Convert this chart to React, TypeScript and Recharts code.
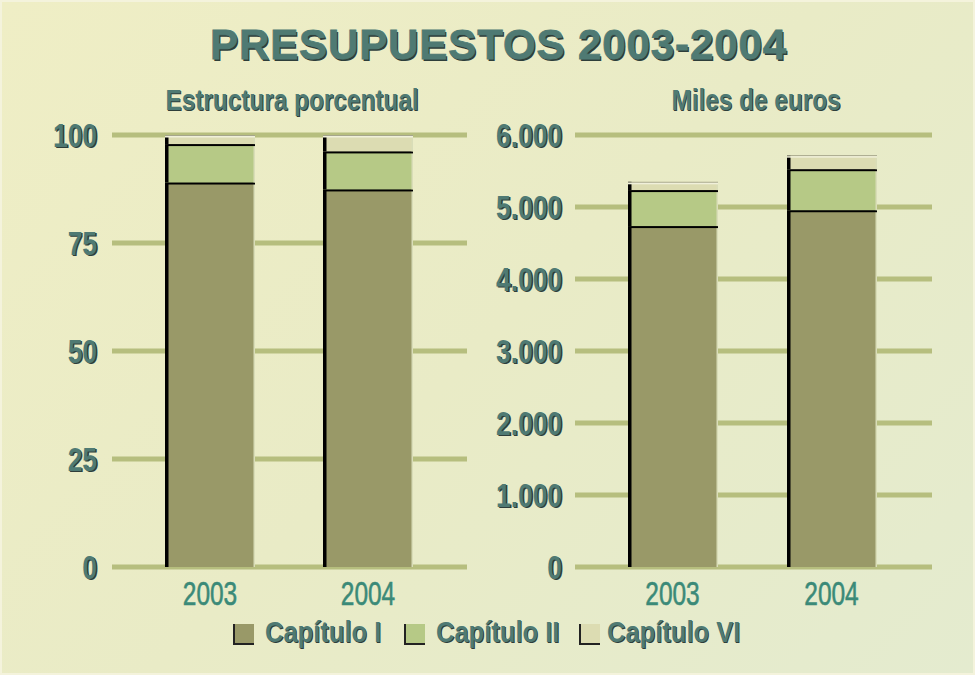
import React from 'react';
import { BarChart, Bar, XAxis, YAxis, CartesianGrid } from 'recharts';

const categories = ['2003', '2004'];
const pctCap1 = [89.0, 87.4];
const pctCap2 = [8.9, 8.8];
const pctCap6 = [2.1, 3.8];
const eurCap1 = [4735, 4955];
const eurCap2 = [500, 570];
const eurCap6 = [115, 195];
const pctTicks = [0, 25, 50, 75, 100];
const eurTicks = [0, 1000, 2000, 3000, 4000, 5000, 6000];
const seriesNames = ['Capítulo I', 'Capítulo II', 'Capítulo VI'];

const pctData = categories.map((c, i) => ({ year: c, c1: pctCap1[i], c2: pctCap2[i], c6: pctCap6[i] }));
const eurData = categories.map((c, i) => ({ year: c, c1: eurCap1[i], c2: eurCap2[i], c6: eurCap6[i] }));

const COLORS = ['#999968', '#B6C986', '#DCDCB2'];
const SANS = '"Liberation Sans", Arial, sans-serif';
const TEXT = '#4F7A73';

const makeShape = (topDark: boolean) => (props: any) => {
  const { x, y, width, height, fill } = props;
  if (!height || height <= 0) return <g />;
  return (
    <g>
      <rect x={x} y={y} width={width} height={height} fill={fill} />
      <rect x={x + width - 1.5} y={y} width={1.5} height={height} fill="#D9DDB8" />
      <rect x={x} y={y} width={3.5} height={height} fill="#000" />
      {topDark ? (
        <rect x={x} y={y - 1.5} width={width} height={3.5} fill="#000" />
      ) : (
        <g>
          <rect x={x} y={y} width={width} height={1} fill="#A6A68C" />
          <rect x={x} y={y + 1} width={width} height={1.5} fill="#F0F0DA" />
        </g>
      )}
    </g>
  );
};

const fmt = (v: number) => v.toLocaleString('de-DE');

const yTick = (props: any) => {
  const { x, y, payload, tickFormatter } = props;
  const label = tickFormatter ? tickFormatter(payload.value) : String(payload.value);
  return (
    <g transform={`translate(${x},${y}) scale(0.8,1)`}>
      <text x={1.8} y={1.5} textAnchor="end" dominantBaseline="central" fontFamily={SANS} fontWeight="bold" fontSize={33} fill="#2E3E3A">{label}</text>
      <text x={0} y={0} textAnchor="end" dominantBaseline="central" fontFamily={SANS} fontWeight="bold" fontSize={33} fill={TEXT}>{label}</text>
    </g>
  );
};

const xTick = (props: any) => {
  const { x, y, payload } = props;
  return (
    <g transform={`translate(${x},${y}) scale(0.72,1)`}>
      <text x={0} y={0} dy="0.76em" textAnchor="middle" fontFamily={SANS} fontSize={34} fill="#3B8A78" stroke="#3B8A78" strokeWidth={0.6}>{payload.value}</text>
    </g>
  );
};

function Chart({ data, ticks, domain, formatter, width, margin, tickMargin, padding }: any) {
  return (
    <BarChart width={width} height={620} data={data} margin={margin} barSize={90}>
      <CartesianGrid vertical={false} stroke="#B6BE7E" strokeWidth={5} />
      <XAxis dataKey="year" axisLine={false} tickLine={false} tickSize={0} tickMargin={12} height={50} padding={padding} tick={xTick} />
      <YAxis domain={domain} ticks={ticks} interval={0} axisLine={false} tickLine={false} tickSize={0} tickMargin={tickMargin} width={60} tickFormatter={formatter} tick={yTick} />
      <Bar dataKey="c1" stackId="s" fill={COLORS[0]} isAnimationActive={false} shape={makeShape(true)} />
      <Bar dataKey="c2" stackId="s" fill={COLORS[1]} isAnimationActive={false} shape={makeShape(true)} />
      <Bar dataKey="c6" stackId="s" fill={COLORS[2]} isAnimationActive={false} shape={makeShape(false)} />
    </BarChart>
  );
}

const narrowText = (scale: number): React.CSSProperties => ({ transform: `scaleX(${scale})`, transformOrigin: 'center top' });

export default function App() {
  const legendPos = [{ sq: 233, tx: 265 }, { sq: 404, tx: 436 }, { sq: 579, tx: 607 }];
  return (
    <div style={{ position: 'absolute', left: 0, top: 0, width: 975, height: 675, overflow: 'hidden', background: 'linear-gradient(135deg, #EFEEC5 0%, #E9EBC6 50%, #E4EBCF 100%)', boxSizing: 'border-box', border: '2px solid #F4F3DC' }}>
      <div style={{ position: 'absolute', left: 9, top: 19, width: 975, textAlign: 'center', fontFamily: SANS, fontWeight: 900, fontSize: 42, color: TEXT, textShadow: '1.5px 1.5px 0 #2E3E3A', WebkitTextStroke: '0.8px #4F7A73', letterSpacing: 0.9 }}>PRESUPUESTOS 2003-2004</div>
      <div style={{ position: 'absolute', left: 90, top: 82, width: 400, textAlign: 'center', fontFamily: SANS, fontWeight: 'bold', fontSize: 29, color: TEXT, textShadow: '1px 1px 0 #2E3E3A', ...narrowText(0.84) }}>Estructura porcentual</div>
      <div style={{ position: 'absolute', left: 554, top: 82, width: 400, textAlign: 'center', fontFamily: SANS, fontWeight: 'bold', fontSize: 29, color: TEXT, textShadow: '1px 1px 0 #2E3E3A', ...narrowText(0.84) }}>Miles de euros</div>
      <div style={{ position: 'absolute', left: -2, top: -2 }}>
        <Chart data={pctData} ticks={pctTicks} domain={[0, 100]} width={480} margin={{ top: 135, right: 13, left: 52, bottom: 3 }} tickMargin={15} padding={{ left: 19, right: 20 }} />
      </div>
      <div style={{ position: 'absolute', left: 478, top: -2 }}>
        <Chart data={eurData} ticks={eurTicks} domain={[0, 6000]} formatter={fmt} width={495} margin={{ top: 135, right: 43, left: 35, bottom: 3 }} tickMargin={13} padding={{ left: 18, right: 21 }} />
      </div>
      {seriesNames.map((n, i) => (
        <React.Fragment key={n}>
          <div style={{ position: 'absolute', left: legendPos[i].sq - 2, top: 622, width: 19, height: 19, background: COLORS[i], borderLeft: '2px solid #222', borderBottom: '2px solid #222' }} />
          <div style={{ position: 'absolute', left: legendPos[i].tx - 2, top: 614, fontFamily: SANS, fontWeight: 'bold', fontSize: 29, color: TEXT, textShadow: '1px 1px 0 #2E3E3A', whiteSpace: 'nowrap', transform: 'scaleX(0.88)', transformOrigin: 'left top' }}>{n}</div>
        </React.Fragment>
      ))}
    </div>
  );
}
